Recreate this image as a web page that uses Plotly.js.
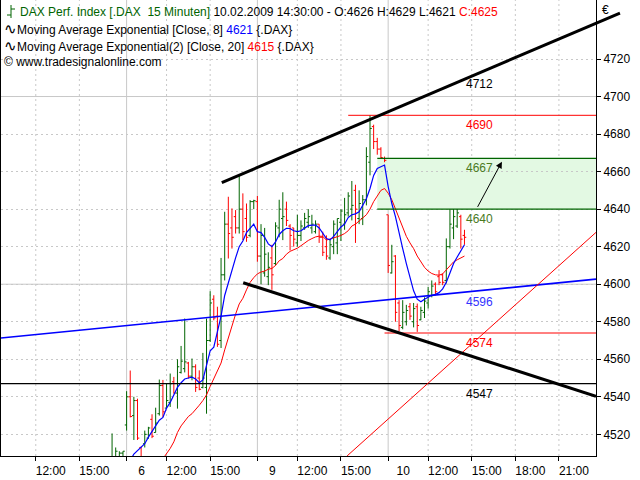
<!DOCTYPE html>
<html><head><meta charset="utf-8">
<script src="https://cdn.plot.ly/plotly-3.0.1.min.js"></script>
<style>html,body{margin:0;padding:0;background:#fff}#chart{width:640px;height:480px}</style>
</head><body><div id="chart"></div>
<script>
// ---- data (15-minute bars, slot index: 0 = 06.02. 09:15) ----
const firstBar = -8;
const openP = [4495,4498,4501,4499,4503,4508,4507,4510,
4525,4540,4530,4538,4513,4515,4518,4528,4521,4531,
4546,4534,4537,4548,4542,4553,4555,4558,4551,4556,
4550,4545,4545,4570,4592,4583,4570,4605,4632,4630,
4636,4630,4640,4635,4626,4644,4644,4615,4606,4604,
4614,4611,4630,4635,4640,4631,4630,4622,4626,4630,
4633,4630,4628,4632,4625,4620,4614,4620,4622,4633,
4632,4638,4640,4650,4635,4635,4645,4665,4684,4676,
4672,4667,4637,4606,4615,4590,4577,4580,4588,4580,
4588,4581,4585,4590,4594,4600,4604,4605,4602,4620,
4630,4631,4636,4626];
const highP = [4500,4503,4505,4507,4520.5,4513,4511,4511,
4543,4554,4540,4539,4513.5,4522,4524,4530.7,4534.2,4549.2,
4549,4547,4552.4,4550.6,4560,4567.1,4581.7,4558.6,4560.4,4557.3,
4554.1,4563.4,4581.7,4596.3,4594.1,4588,4614,4638.6,4646.6,4640.4,
4639.5,4658,4648.4,4643,4644.8,4645,4647,4632,4630,4617,
4621,4633,4645,4649,4644,4632,4630,4637,4634,4638,
4640,4637,4634,4632,4628,4626,4624,4634,4635,4640,
4646,4649,4655,4653,4650,4647.5,4673,4690,4685,4678,
4673,4668,4637,4621,4615.5,4591.5,4591.5,4589,4590,4590,
4589.7,4588,4593,4598.6,4602,4601,4607.5,4605.7,4624.4,4640,
4640,4640,4637,4629];
const lowP = [4490,4494,4497,4496,4501,4505,4503,4506,
4522,4529,4517,4517,4503,4513,4517.7,4518,4521,4530,
4529.3,4533.7,4534.6,4541.7,4533.7,4552.4,4553,4549.7,4548.8,4542.6,
4543.5,4544.5,4531,4569.2,4580.8,4566.6,4566,4602,4613.7,4619,
4627,4627,4623.5,4622.6,4625,4640,4612,4600,4604,4599.5,
4597,4610,4625,4623.5,4631,4618,4620,4620,4623,4629,
4630,4627,4627,4622,4615,4613,4613,4616,4616,4623,
4629,4636,4634,4622,4632,4631.5,4642,4658,4672,4669,
4667,4665,4606,4605.7,4580,4575,4576,4578,4581,4577,
4574.6,4580.8,4582,4587,4593,4594,4599.5,4599.5,4600.4,4619,
4624,4630,4619,4621];
const closeP = [4498,4501,4499,4505,4508,4511,4510,4511,
4540,4529.5,4538,4518,4508,4520,4523.4,4519,4526,4546,
4532,4538,4547,4542,4556,4559,4558.6,4551,4556,4545,
4544,4550,4570,4590,4582,4568,4605,4632,4627,4625,
4630,4640,4628,4625,4644,4644.5,4615,4626,4616,4609,
4605,4631,4640,4636,4634,4626,4624,4626,4631,4635,
4636,4632,4632,4625,4617,4615,4621,4632,4635,4639,
4637,4647,4642,4640,4643,4645,4668,4683,4676,4672,
4667.5,4666,4610,4612,4585,4578,4585,4586,4583,4587,
4578,4586,4591,4596,4599,4596,4601,4601,4620,4632,
4636,4638,4624,4625];

// EMA(8) blue, starting at slot -2 ; EMA(20) red, starting at slot 8
const emaFastStart = -2;
const emaFast = [4495,4499,4503,4506,4509.5,4511.5,4513,4515,4518.5,4521.5,4524.5,4527.5,
4529,4534,4537,4541.5,4545,4547.5,4549.5,4550,4550.5,4549.5,
4547.5,4549,4557,4564.5,4566.5,4574,4583,4594,4601,4608,
4614,4620,4623,4627.5,4630,4632,4628,4627.5,4625,4621.5,
4620,4622.5,4626.5,4628.5,4629.8,4629.7,4628.5,4628,4628.5,4629.7,
4631.2,4631.5,4631.5,4630,4627,4624.3,4623.6,4625.5,4628,4630.5,
4632,4635.5,4637,4637.5,4638.6,4642,4645.5,4651,4658,4661.7,
4662.5,4663.5,4652,4643,4636,4627,4619,4611,4603,4596.5,
4592,4590.6,4592,4593.2,4594.1,4594.6,4595.5,4597.5,4601,4606,
4611,4614.5,4618,4621];
const emaSlowStart = 8;
const emaSlow = [4500,4504,
4507,4509.5,4512.5,4516,4521,4524.5,4527,4529.5,4531,4533,
4535.5,4538,4541,4545.5,4549.5,4553.5,4558,4565,4571.5,4578,
4584,4589.5,4592.5,4597,4601,4603.5,4605.5,4606.5,4607,4608,
4608.4,4610,4612.5,4613.7,4616,4617.5,4618.3,4619.2,4620.5,4622,
4623.3,4624.3,4625.2,4625.6,4625.5,4623.5,4624,4624.8,4625.3,4626,
4627,4628.5,4631,4632,4633.5,4635,4637,4640,4644,4647,
4650,4651,4648.5,4645,4640,4635,4630,4625.5,4622,4619,
4615,4612,4609,4607,4605.7,4605,4604.8,4605.5,4607.5,4610,
4611.9,4613,4614,4615];

// time axis ticks (slot index) and labels
const tickSlots = [-25,-13,0,11,23,36,47,59,72,83,95,107,119];
const tickLabels = ['12:00','15:00','6','12:00','15:00','9','12:00','15:00','10','12:00','15:00','18:00','21:00'];
const daySlots = [0,36,72];
const priceTicks = [4520,4540,4560,4580,4600,4620,4640,4660,4680,4700,4720];
const majorPriceLines = [4600,4700];

// drawn objects (slot, price)
const upperTrend = [[26.2,4654.1],[135.8,4744.5]];
const upperTrendLabel = 4712;
const lowerTrend = [[32.1,4600.8],[129.2,4540.3]];
const blueTrend = [[-34.57,4571.3],[129.2,4602.7]];
const redTrend = [[60.7,4508.5],[129.2,4627.6]];
const resistance = {price:4690, from:61};
const targetZone = {low:4640, high:4667, from:69};
const support = {price:4574, from:71};
const baseLine = {price:4547};
const arrowTail = [96.4,4640.4], arrowHead = [103.3,4665.3];
const labelSlot = 93;

// ---- chart ----
const xr = [-34.572, 129.205], yr = [4508.46, 4751.44];
const L = 1, R = 44, T = 0, B = 24, W = 640, H = 480;
const pw = W - L - R, ph = H - T - B;
const pxX = x => (x - L) / pw;          // pixel -> paper
const pxY = y => 1 - (y - T) / ph;
const sX = i => (i - xr[0]) / (xr[1] - xr[0]); // data -> paper
const sY = p => (p - yr[0]) / (yr[1] - yr[0]);

const barIndex = openP.map((_, k) => firstBar + k);
const fastX = emaFast.map((_, k) => emaFastStart + k);
const slowX = emaSlow.map((_, k) => emaSlowStart + k);
const n = closeP.length - 1;

const GREEN = '#006400', RED = '#ff0000', BLUE = '#0000ff';
const FONT = 'Liberation Sans, Arial, sans-serif';

const traces = [
  {type:'ohlc', x:barIndex, open:openP, high:highP, low:lowP, close:closeP,
   increasing:{line:{color:GREEN, width:1}}, decreasing:{line:{color:RED, width:1}},
   tickwidth:0.5, hoverinfo:'skip', showlegend:false},
  {type:'scatter', mode:'lines', x:slowX, y:emaSlow, line:{color:RED, width:1}, hoverinfo:'skip', showlegend:false},
  {type:'scatter', mode:'lines', x:fastX, y:emaFast, line:{color:BLUE, width:1.2}, hoverinfo:'skip', showlegend:false}
];

const shapes = [];
const GRID = '#c8c8c8';
tickSlots.forEach(s => {
  const isDay = daySlots.includes(s);
  shapes.push({type:'line', xref:'x', yref:'paper', x0:s, x1:s, y0:0, y1:1, layer:'below',
    line:{color:GRID, width:1, dash: isDay ? 'solid' : '2px,3px'}});
});
majorPriceLines.forEach(p => shapes.push({type:'line', xref:'paper', yref:'y', x0:0, x1:1, y0:p, y1:p, layer:'below',
  line:{color:GRID, width:1}}));
// target zone
shapes.push({type:'rect', xref:'x', yref:'y', x0:targetZone.from, x1:xr[1], y0:targetZone.low, y1:targetZone.high,
  layer:'below', fillcolor:'#e3f9e3', line:{width:0}});
[targetZone.low, targetZone.high].forEach(p => shapes.push({type:'line', xref:'x', yref:'y', x0:targetZone.from, x1:xr[1], y0:p, y1:p,
  line:{color:GREEN, width:1.3}}));
shapes.push({type:'line', xref:'x', yref:'y', x0:resistance.from, x1:xr[1], y0:resistance.price, y1:resistance.price, line:{color:RED, width:1}});
shapes.push({type:'line', xref:'x', yref:'y', x0:support.from, x1:xr[1], y0:support.price, y1:support.price, line:{color:RED, width:1}});
shapes.push({type:'line', xref:'paper', yref:'y', x0:0, x1:1, y0:baseLine.price, y1:baseLine.price, line:{color:'#000', width:1.3}});
shapes.push({type:'line', xref:'x', yref:'y', x0:blueTrend[0][0], y0:blueTrend[0][1], x1:blueTrend[1][0], y1:blueTrend[1][1], line:{color:BLUE, width:1.6}});
shapes.push({type:'line', xref:'x', yref:'y', x0:redTrend[0][0], y0:redTrend[0][1], x1:redTrend[1][0], y1:redTrend[1][1], line:{color:RED, width:1}});
shapes.push({type:'line', xref:'x', yref:'y', x0:lowerTrend[0][0], y0:lowerTrend[0][1], x1:lowerTrend[1][0], y1:lowerTrend[1][1], line:{color:'#000', width:3}});
// upper trend line extends past the plot frame (paper refs are not clipped)
shapes.push({type:'line', xref:'paper', yref:'paper', x0:sX(upperTrend[0][0]), y0:sY(upperTrend[0][1]),
  x1:sX(upperTrend[1][0]), y1:sY(upperTrend[1][1]), line:{color:'#000', width:3}});
// legend OHLC glyph
shapes.push({type:'line', xref:'paper', yref:'paper', x0:pxX(11), x1:pxX(11), y0:pxY(5), y1:pxY(18), line:{color:GREEN, width:1}});
shapes.push({type:'line', xref:'paper', yref:'paper', x0:pxX(7), x1:pxX(11), y0:pxY(15), y1:pxY(15), line:{color:GREEN, width:1}});
shapes.push({type:'line', xref:'paper', yref:'paper', x0:pxX(11), x1:pxX(15), y0:pxY(9), y1:pxY(9), line:{color:GREEN, width:1}});

const lab = (txt, p, color) => ({x:labelSlot, y:p, xref:'x', yref:'y', text:txt, showarrow:false,
  xanchor:'left', yanchor:'top', xshift:0, yshift:-1, font:{family:FONT, size:12, color:color}});
const blueSlope = (blueTrend[1][1] - blueTrend[0][1]) / (blueTrend[1][0] - blueTrend[0][0]);
const blueAtLabel = blueTrend[0][1] + blueSlope * (labelSlot - blueTrend[0][0]);
const ZONE_TXT = '#4a7a1e';
const WAVE = '<span style="font-size:15px">\u223F</span>';

const fmt = v => String(Math.round(v));
const annotations = [
  lab(fmt(upperTrendLabel), upperTrendLabel, '#000'),
  lab(fmt(resistance.price), resistance.price, RED),
  lab(fmt(targetZone.high), targetZone.high, ZONE_TXT),
  lab(fmt(targetZone.low), targetZone.low, ZONE_TXT),
  lab(fmt(blueAtLabel), blueAtLabel, '#3333ff'),
  lab(fmt(support.price), support.price, RED),
  lab(fmt(baseLine.price), baseLine.price, '#000'),
  {x:arrowHead[0], y:arrowHead[1], ax:arrowTail[0], ay:arrowTail[1], xref:'x', yref:'y', axref:'x', ayref:'y',
   showarrow:true, arrowhead:2, arrowsize:1.3, arrowwidth:1, arrowcolor:'#000', text:''},
  {xref:'paper', yref:'paper', x:pxX(18), y:pxY(11.5), xanchor:'left', yanchor:'middle', showarrow:false,
   font:{family:FONT, size:12, color:'#000'},
   text:'<span style="color:'+GREEN+'">DAX Perf. Index [.DAX\u00a0\u00a015 Minuten]</span> 10.02.2009 14:30:00 - O:' + fmt(openP[n]) +
        ' H:' + fmt(highP[n]) + ' L:' + fmt(lowP[n]) + ' <span style="color:'+RED+'">C:' + fmt(closeP[n]) + '</span>'},
  {xref:'paper', yref:'paper', x:pxX(2), y:pxY(28.5), xanchor:'left', yanchor:'middle', showarrow:false,
   font:{family:FONT, size:12, color:'#000'},
   text:WAVE + 'Moving Average Exponential [Close, 8] <span style="color:'+BLUE+'">' + fmt(emaFast[emaFast.length-1]) + '</span> {.DAX}'},
  {xref:'paper', yref:'paper', x:pxX(2), y:pxY(45), xanchor:'left', yanchor:'middle', showarrow:false,
   font:{family:FONT, size:12, color:'#000'},
   text:WAVE + 'Moving Average Exponential(2) [Close, 20] <span style="color:'+RED+'">' + fmt(emaSlow[emaSlow.length-1]) + '</span> {.DAX}'},
  {xref:'paper', yref:'paper', x:pxX(2), y:pxY(62), xanchor:'left', yanchor:'middle', showarrow:false,
   font:{family:FONT, size:12, color:'#000'}, text:'\u00A9 www.tradesignalonline.com'},
  {xref:'paper', yref:'paper', x:pxX(600), y:pxY(10), xanchor:'left', yanchor:'middle', showarrow:false,
   font:{family:FONT, size:12, color:'#000'}, text:'\u20AC'}
];

const layout = {
  width:W, height:H, margin:{l:L, r:R, t:T, b:B, pad:0},
  paper_bgcolor:'#fff', plot_bgcolor:'#fff', showlegend:false,
  font:{family:FONT, size:12, color:'#000'},
  xaxis:{type:'linear', range:xr, rangeslider:{visible:false}, tickmode:'array', tickvals:tickSlots, ticktext:tickLabels,
    ticks:'outside', ticklen:4, tickcolor:'#000', ticklabelshift:15, showgrid:false, zeroline:false,
    showline:true, mirror:true, linecolor:'#000', linewidth:1, tickfont:{family:FONT, size:12, color:'#000'}},
  yaxis:{side:'right', range:yr, tickmode:'array', tickvals:priceTicks, ticks:'outside', ticklen:4, tickcolor:'#000',
    showgrid:true, gridcolor:GRID, griddash:'2px,3px', zeroline:false, showline:true, mirror:true,
    linecolor:'#000', linewidth:1, tickfont:{family:FONT, size:12, color:'#000'}},
  shapes:shapes, annotations:annotations
};

Plotly.newPlot('chart', traces, layout, {staticPlot:true, displayModeBar:false});
</script></body></html>
